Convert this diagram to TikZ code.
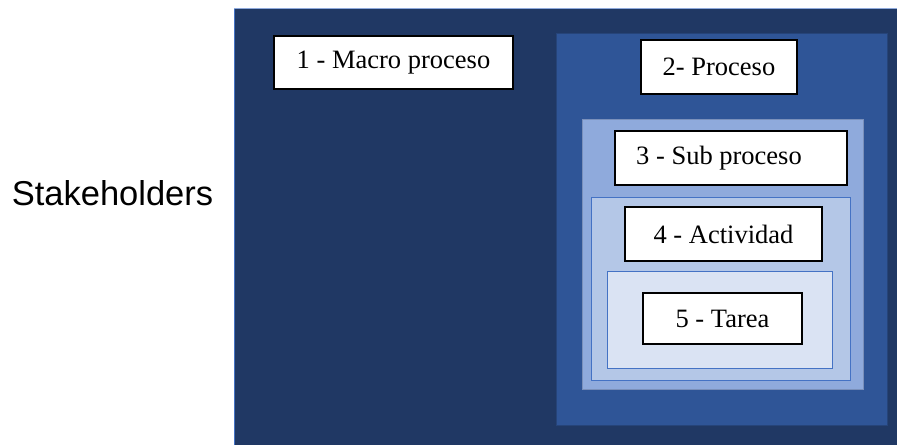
\documentclass[tikz,border=0pt]{standalone}
\usepackage{fontspec}
\setmainfont{Liberation Serif}
\newfontfamily\arialfont{Liberation Sans}
\definecolor{navy}{HTML}{203864}
\definecolor{procblue}{HTML}{2F5597}
\definecolor{subblue}{HTML}{8FAADC}
\definecolor{actblue}{HTML}{B4C7E7}
\definecolor{tareablue}{HTML}{DAE3F3}
\definecolor{edgeblue}{HTML}{4472C4}
\tikzset{
  level/.style={draw=edgeblue, line width=0.8pt},
  label box/.style={draw=black, fill=white, line width=1.3pt, inner sep=0pt,
    font=\fontsize{26.5}{30}\selectfont},
}
\begin{document}
\begin{tikzpicture}[x=1pt,y=-1pt]
\useasboundingbox (0,0) rectangle (897,445);
\fill[navy] (234,8) rectangle (897,445);
\draw[edgeblue, line width=1pt] (234.5,8) -- (234.5,445);
\draw[edgeblue!60, line width=0.8pt] (234,8.5) -- (897,8.5);
\filldraw[fill=procblue, draw=procblue!80!black, line width=0.6pt] (556,33) rectangle (887,425);
\filldraw[fill=subblue, draw=subblue!85!black, line width=0.6pt] (582,119) rectangle (863,389);
\filldraw[fill=actblue, level] (591,197) rectangle (850,380);
\filldraw[fill=tareablue, level] (607,271) rectangle (832,368);
\node[label box, minimum width=239pt, minimum height=53pt] (n1) at (393.5,62.5) {1 - Macro proceso};
\node[label box, minimum width=156pt, minimum height=54pt] (n2) at (719,67) {2- Proceso};
\node[label box, minimum width=232pt, minimum height=54pt] (n3) at (731,158) {3 - Sub proceso\hspace*{24pt}};
\node[label box, minimum width=197pt, minimum height=54pt] (n4) at (723.5,234) {4 - Actividad};
\node[label box, minimum width=159pt, minimum height=51pt] (n5) at (722.5,318.5) {5 - Tarea};
\node[font=\arialfont\fontsize{34.5}{40}\selectfont, inner sep=0pt, anchor=base] (st) at (112.5,205) {Stakeholders};
\end{tikzpicture}
\end{document}
